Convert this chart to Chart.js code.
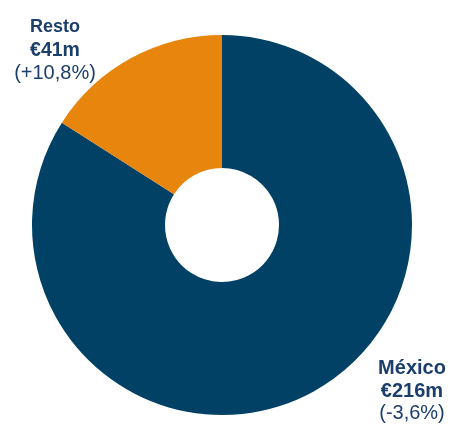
<!DOCTYPE html>
<html>
<head>
<meta charset="utf-8">
<style>
html,body{margin:0;padding:0;background:#fff;}
#wrap{position:relative;width:452px;height:426px;}
</style>
<script src="https://cdn.jsdelivr.net/npm/chart.js@4.4.1/dist/chart.umd.min.js"></script>
</head>
<body>
<div id="wrap"><canvas id="c" width="452" height="426"></canvas></div>
<script>
const categories = ["México", "Resto"];
const values = [216, 41];
const valueLabels = ["€216m", "€41m"];
const changeLabels = ["(-3,6%)", "(+10,8%)"];
const colors = ["#004165", "#E8850C"];

const labelPlugin = {
  id: 'sliceLabels',
  afterDraw(chart, args, opts) {
    const ctx = chart.ctx;
    ctx.save();
    ctx.fillStyle = '#1B3E6A';
    ctx.textAlign = 'center';
    ctx.textBaseline = 'alphabetic';
    opts.positions.forEach((p, i) => {
      ctx.font = 'bold ' + p.s[0] + 'px "Liberation Sans", Arial, sans-serif';
      ctx.fillText(categories[i], p.x, p.y[0]);
      ctx.font = 'bold ' + p.s[1] + 'px "Liberation Sans", Arial, sans-serif';
      ctx.fillText(valueLabels[i], p.x, p.y[1]);
      ctx.font = p.s[2] + 'px "Liberation Sans", Arial, sans-serif';
      ctx.fillText(changeLabels[i], p.x, p.y[2]);
    });
    ctx.restore();
  }
};

new Chart(document.getElementById('c'), {
  type: 'doughnut',
  data: {
    labels: categories,
    datasets: [{
      data: values,
      backgroundColor: colors,
      borderWidth: 0
    }]
  },
  options: {
    responsive: false,
    animation: false,
    cutout: '30%',
    layout: { padding: { left: 32, right: 40, top: 35, bottom: 11 } },
    plugins: {
      legend: { display: false },
      tooltip: { enabled: false },
      sliceLabels: {
        positions: [
          { x: 412, y: [374, 397, 419], s: [20, 20, 20] },
          { x: 55, y: [32, 56, 79], s: [18, 19.5, 20] }
        ]
      }
    }
  },
  plugins: [labelPlugin]
});
</script>
</body>
</html>
